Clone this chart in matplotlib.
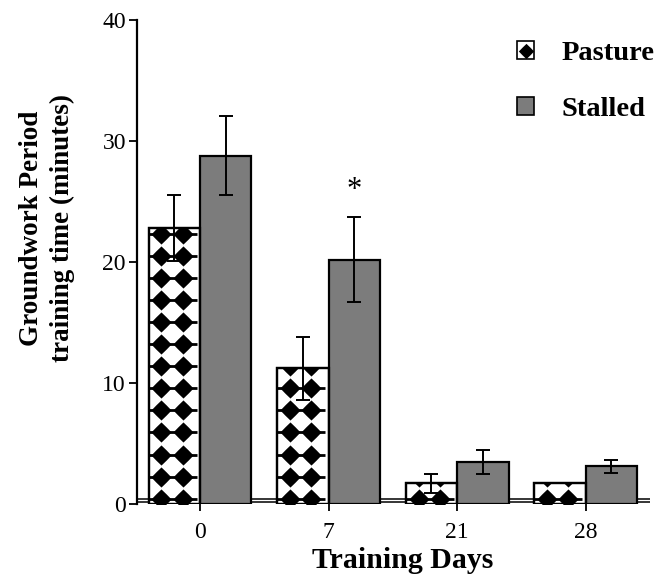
import numpy as np
import matplotlib
matplotlib.use("Agg")
import matplotlib.pyplot as plt
from matplotlib.path import Path
from matplotlib.patches import Patch
from matplotlib.lines import Line2D
from matplotlib.legend_handler import HandlerTuple

# data
days = ["0", "7", "21", "28"]
pasture_mean = [22.8, 11.2, 1.7, 1.7]
pasture_err = [2.7, 2.6, 0.8, 0.0]
stalled_mean = [28.8, 20.2, 3.5, 3.1]
stalled_err = [3.3, 3.5, 1.0, 0.55]
signif = [False, True, False, False]   # asterisk over stalled bar

plt.rcParams['font.family'] = ['Liberation Serif', 'DejaVu Serif']

gray = '#7c7c7c'
star = Path.unit_regular_star(4, innerCircle=0.72)

fig = plt.figure(figsize=(6.62, 5.81), dpi=100)
ax = fig.add_axes([137 / 662, 1 - 504 / 581, (650 - 137) / 662, (504 - 20) / 581])

x = np.arange(len(days))
w = 0.4

# double base line
ax.axhline(0.42, color='black', lw=1.1, zorder=0)
ax.axhline(0.17, color='black', lw=1.1, zorder=0)

pb = ax.bar(x - w / 2, pasture_mean, w, color='white', edgecolor='black', lw=1.6, zorder=2)
sb = ax.bar(x + w / 2, stalled_mean, w, color=gray, edgecolor='black', lw=1.6, zorder=2)

# diamond pattern inside pasture bars
for rect in pb:
    x0 = rect.get_x()
    h = rect.get_height()
    rows = np.arange(0.45, h + 1.0, 1.82)
    for dx in [0.10, 0.265]:
        sc = ax.scatter(np.full(len(rows), x0 + dx), rows, marker=star, s=14.5 ** 2,
                        color='black', lw=0, zorder=3)
        sc.set_clip_path(rect)
    for dx in [0.018, 0.183, 0.35]:
        ln, = ax.plot(np.full(len(rows), x0 + dx), rows, ls='none', marker='_',
                      ms=4, mew=2, color='black', zorder=3)
        ln.set_clip_path(rect)
    ax.add_patch(plt.Rectangle((x0, 0), w, h, fill=False, edgecolor='black', lw=1.6, zorder=4))

# error bars
for xs, m, e in [(x - w / 2, pasture_mean, pasture_err), (x + w / 2, stalled_mean, stalled_err)]:
    keep = [i for i in range(len(e)) if e[i] > 0]
    ax.errorbar([xs[i] for i in keep], [m[i] for i in keep], yerr=[e[i] for i in keep],
                fmt='none', ecolor='black', elinewidth=1.4, capsize=5, capthick=1.4, zorder=5)

for i, s in enumerate(signif):
    if s:
        ax.text(x[i] + w / 2, stalled_mean[i] + stalled_err[i] + 1.0, '*', ha='center',
                va='bottom', fontsize=22)

ax.set_xlim(-0.49, 3.5)
ax.set_ylim(0, 40)
ax.set_yticks([0, 10, 20, 30, 40])
ax.set_xticks(x)
ax.set_xticklabels(days)
ax.spines['top'].set_visible(False)
ax.spines['right'].set_visible(False)
ax.spines['bottom'].set_visible(False)
ax.spines['left'].set_linewidth(1.6)
ax.tick_params(axis='y', length=6, width=1.3, labelsize=17, pad=2)
ax.tick_params(axis='x', length=5, width=1.3, labelsize=17, pad=8)

ax.set_xlabel('Training Days', fontsize=21.5, fontweight='bold')
ax.xaxis.label.set_va('center')
ax.xaxis.set_label_coords(0.517, -0.116)
ax.set_ylabel('Groundwork Period\ntraining time (minutes)', fontsize=19.5,
              fontweight='bold', linespacing=1.3)
ax.yaxis.label.set_va('center')
ax.yaxis.set_label_coords(-0.176, 0.57)

h_past = (Patch(facecolor='white', edgecolor='black', lw=1.2),
          Line2D([], [], ls='none', marker=star, ms=11, color='black', mew=0))
h_stall = Patch(facecolor=gray, edgecolor='black', lw=1.2)
ax.legend([h_past, h_stall], ['Pasture', 'Stalled'],
          handler_map={tuple: HandlerTuple(ndivide=1)},
          loc='upper left', bbox_to_anchor=(517 / 662, 1 - 41 / 581),
          bbox_transform=fig.transFigure, frameon=False, borderpad=0, borderaxespad=0,
          handlelength=0.6, handleheight=0.6, handletextpad=0.95,
          labelspacing=1.1, prop={'size': 20.5, 'weight': 'bold'})

fig.savefig('out.png', dpi=100)
